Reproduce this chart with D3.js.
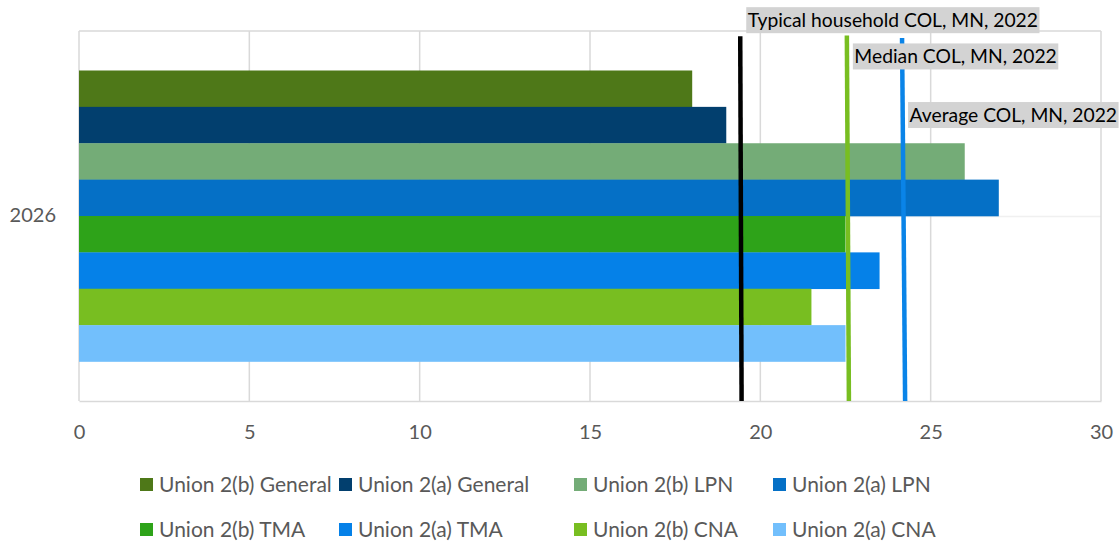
<!DOCTYPE html>
<html>
<head>
<meta charset="utf-8">
<script src="https://cdn.jsdelivr.net/npm/d3@7/dist/d3.min.js"></script>
<style>
  html, body { margin: 0; padding: 0; background: #fff; }
  svg { display: block; font-family: Lato, "Liberation Sans", sans-serif; }
</style>
</head>
<body>
<svg id="chart" width="1120" height="542"></svg>
<script>
// ---- data ----
const categories = ["2026"];
const seriesNames = [
  "Union 2(b) General", "Union 2(a) General", "Union 2(b) LPN", "Union 2(a) LPN",
  "Union 2(b) TMA", "Union 2(a) TMA", "Union 2(b) CNA", "Union 2(a) CNA"
];
const seriesValues = [18, 19, 26, 27, 22.5, 23.5, 21.5, 22.5];
const seriesColors = ["#4E7818", "#023F6E", "#74AC77", "#0570C6", "#2EA319", "#0581E8", "#78BE21", "#72BFFC"];
const xTicks = [0, 5, 10, 15, 20, 25, 30];
// reference lines: x at bottom (y2=0) and at top (y2=top)
const refNames = ["Typical household COL, MN, 2022", "Median COL, MN, 2022", "Average COL, MN, 2022"];
const refXBottom = [19.45, 22.60, 24.25];
const refXTop = [19.41, 22.54, 24.16];
const refYTop = [0.986, 0.988, 0.981];
const refColors = ["#000000", "#78BE21", "#0A84E8"];

// ---- layout ----
const svg = d3.select("#chart");
const plot = { left: 79, right: 1101, top: 31, bottom: 401 };
const x = d3.scaleLinear().domain([0, 30]).range([plot.left, plot.right]);
const y2 = d3.scaleLinear().domain([0, 1]).range([plot.bottom, plot.top]);
const yCat = d3.scaleBand().domain(categories).range([plot.top, plot.bottom]).paddingInner(0).paddingOuter(0.1357);
const ySer = d3.scaleBand().domain(seriesNames).range([0, yCat.bandwidth()]).padding(0);

const gridColor = "#D9D9D9";
const textColor = "#595959";
const axisFont = 20;
const labelFont = 19.3;
const legendFont = 21;
const fam = "Lato, 'Liberation Sans', sans-serif";

// faint horizontal gridline (secondary axis)
svg.append("g").selectAll("line").data([0.5]).join("line")
  .attr("x1", plot.left).attr("x2", plot.right)
  .attr("y1", d => y2(d) + 0.5).attr("y2", d => y2(d) + 0.5)
  .attr("stroke", "#F0F0F0").attr("stroke-width", 1.5);

// top border
svg.append("line")
  .attr("x1", plot.left).attr("x2", plot.right)
  .attr("y1", plot.top).attr("y2", plot.top)
  .attr("stroke", gridColor).attr("stroke-width", 1.5);

// vertical gridlines
svg.append("g").selectAll("line").data(xTicks).join("line")
  .attr("x1", d => x(d)).attr("x2", d => x(d))
  .attr("y1", plot.top).attr("y2", plot.bottom)
  .attr("stroke", gridColor).attr("stroke-width", 1.5);

// x axis
const xAxis = svg.append("g")
  .attr("transform", `translate(0,${plot.bottom})`)
  .call(d3.axisBottom(x).tickValues(xTicks).tickSize(0).tickPadding(24));
xAxis.select(".domain").attr("stroke", gridColor).attr("stroke-width", 1.5);
xAxis.selectAll("text").attr("fill", textColor).style("font-size", axisFont + "px").style("font-family", fam);

// y axis label
const yAxis = svg.append("g")
  .attr("transform", `translate(${plot.left},0)`)
  .call(d3.axisLeft(yCat).tickSize(0).tickPadding(23));
yAxis.select(".domain").remove();
yAxis.selectAll("text").attr("fill", textColor).style("font-size", axisFont + "px").style("font-family", fam);

// bars
const bars = seriesNames.map((s, i) => ({ cat: categories[0], name: s, value: seriesValues[i], color: seriesColors[i] }));
svg.append("g").selectAll("rect").data(bars).join("rect")
  .attr("x", x(0))
  .attr("y", d => yCat(d.cat) + ySer(d.name))
  .attr("width", d => x(d.value) - x(0))
  .attr("height", ySer.bandwidth() + 0.3)
  .attr("fill", d => d.color);

// reference lines
const refs = refNames.map((n, i) => ({ name: n, xb: refXBottom[i], xt: refXTop[i], yt: refYTop[i], color: refColors[i] }));
svg.append("g").selectAll("line").data(refs).join("line")
  .attr("x1", d => x(d.xb)).attr("y1", y2(0))
  .attr("x2", d => x(d.xt)).attr("y2", d => y2(d.yt))
  .attr("stroke", d => d.color).attr("stroke-width", 4.5);

// reference labels (box offsets relative to line top)
const labelOffsetY = [-16, 21, 77];
const labelG = svg.append("g").selectAll("g").data(refs).join("g")
  .attr("transform", (d, i) => `translate(${x(d.xt) + 6},${y2(d.yt) + labelOffsetY[i]})`);
labelG.each(function (d) {
  const g = d3.select(this);
  const t = g.append("text")
    .attr("x", 1.5).attr("y", 0).attr("dy", "0.35em")
    .attr("fill", "#000").style("font-size", labelFont + "px")
    .text(d.name);
  const w = t.node().getComputedTextLength();
  g.insert("rect", "text")
    .attr("x", 0).attr("y", -13).attr("width", w + 3).attr("height", 26)
    .attr("fill", "#D3D3D3");
});

// legend
const legendCols = [140, 339, 574, 773];
const legendRows = [485, 530];
const leg = svg.append("g").selectAll("g").data(bars).join("g")
  .attr("transform", (d, i) => `translate(${legendCols[i % 4]},${legendRows[Math.floor(i / 4)]})`);
leg.append("rect").attr("x", 0).attr("y", -7).attr("width", 13).attr("height", 13).attr("fill", d => d.color);
leg.append("text").attr("x", 19).attr("y", 0).attr("dy", "0.35em")
  .attr("fill", textColor).style("font-size", legendFont + "px").text(d => d.name);
</script>
</body>
</html>
